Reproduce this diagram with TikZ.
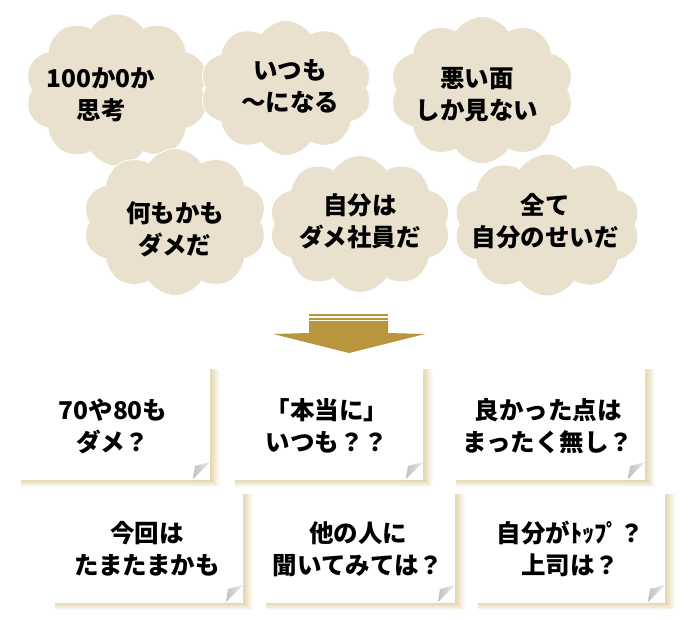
\documentclass[tikz,border=0pt]{standalone}
\usepackage{fontspec}
\setmainfont{Noto Sans CJK JP}
\usetikzlibrary{shapes.symbols}
\definecolor{cloudfill}{RGB}{233,225,205}
\definecolor{arrowgold}{RGB}{184,150,62}
\definecolor{foldgray}{RGB}{200,200,205}
\definecolor{shc}{RGB}{228,214,176}
\tikzset{
  cloudbox/.style={cloud, cloud puffs=10, cloud puff arc=115, aspect=1.25,
    fill=cloudfill, draw=white, line width=0.8pt, inner sep=0pt,
    minimum width=172pt, minimum height=135pt},
  txt/.style={align=center, font=\fontsize{24.5}{32}\selectfont\bfseries, inner sep=0pt, text=black}
}
\newcommand\mynote[4]{%
  \shade[left color=shc, right color=white] ({#3},{#2+4}) rectangle ({#3+10},{#4+5});
  \shade[top color=shc, bottom color=white] ({#1+3},{#4}) rectangle ({#3+4},{#4+7});
  \fill[white] ({#1},{#2}) -- ({#3},{#2}) -- ({#3},{#4-18}) -- ({#3-18},{#4}) -- ({#1},{#4}) -- cycle;
  \shade[left color=foldgray!90!gray, right color=foldgray!35] ({#3},{#4-18}) -- ({#3-17},{#4-1}) -- ({#3-15},{#4-14}) -- cycle;
}
\begin{document}
\begin{tikzpicture}[x=1pt,y=-1pt]
\useasboundingbox[fill=white] (0,0) rectangle (688,620);
% clouds
\node[cloudbox, minimum width=184pt, minimum height=152pt] (c1) at (117,90) {};
\node[cloudbox] (c2) at (286,88) {};
\node[cloudbox, minimum width=184pt, minimum height=147pt] (c3) at (482,90) {};
\node[cloudbox, minimum width=184pt, minimum height=147pt] (c4) at (175,222) {};
\node[cloudbox, minimum width=182pt, minimum height=137pt] (c5) at (360,224) {};
\node[cloudbox, minimum width=187pt, minimum height=142pt] (c6) at (547,225) {};
\node[txt] (t1) at (101,95) {100か0か\\思考};
\node[txt] (t2) at (290,86) {いつも\\〜になる};
\node[txt] (t3) at (477,95) {悪い面\\しか見ない};
\node[txt] (t4) at (175,229) {何もかも\\ダメだ};
\node[txt] (t5) at (360,221) {自分は\\ダメ社員だ};
\node[txt] (t6) at (545,221) {全て\\自分のせいだ};
% arrow
\fill[arrowgold] (309,314.5) rectangle (388,316.2);
\fill[arrowgold] (309,317.6) rectangle (388,319.6);
\fill[arrowgold] (309,321) -- (388,321) -- (388,333) -- (425,334) -- (349,353) -- (273,334) -- (309,333) -- cycle;
% notes
\mynote{18}{365}{210}{480}
\mynote{232}{365}{423}{480}
\mynote{453}{365}{645}{480}
\mynote{52}{490}{243}{603}
\mynote{263}{490}{455}{603}
\mynote{475}{490}{665}{603}
\node[txt] (n1) at (113,426) {70や80も\\ダメ？};
\node[txt] (n2) at (327,426) {「本当に」\\いつも？？};
\node[txt] (n3) at (548,426) {良かった点は\\まったく無し？};
\node[txt] (n4) at (147,549) {今回は\\たまたまかも};
\node[txt] (n5) at (358,549) {他の人に\\聞いてみては？};
\node[txt] (n6) at (570,549) {自分がﾄｯﾌﾟ？\\上司は？};
\end{tikzpicture}
\end{document}
